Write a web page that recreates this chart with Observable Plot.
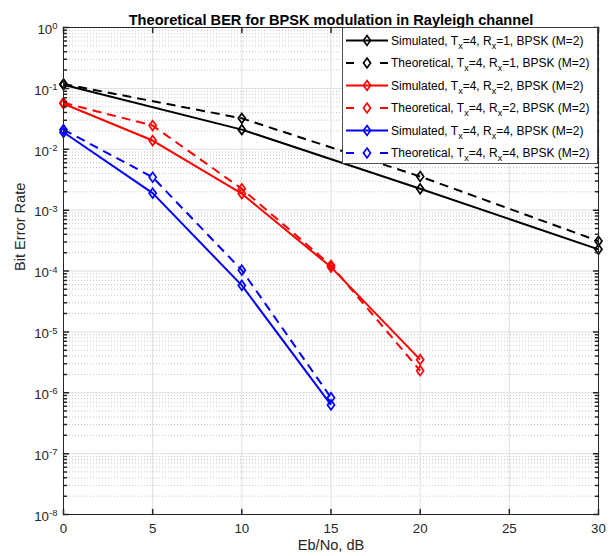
<!DOCTYPE html>
<html>
<head>
<meta charset="utf-8">
<script src="https://cdn.jsdelivr.net/npm/d3@7"></script>
<script src="https://cdn.jsdelivr.net/npm/@observablehq/plot@0.6"></script>
<style>
  html, body { margin: 0; padding: 0; background: #fff; overflow: hidden; }
  svg { display: block; }
</style>
</head>
<body>
<div id="chart"></div>
<script>
// ---- data ----
const ebnoRx1 = [0, 10, 20, 30];
const simRx1  = [0.115, 0.021, 0.00224, 0.000227];
const theoRx1 = [0.118, 0.0322, 0.00357, 0.00031];

const ebnoRx2 = [0, 5, 10, 15, 20];
const simRx2  = [0.056, 0.0139, 0.00186, 0.000116, 3.5e-6];
const theoRx2 = [0.058, 0.0245, 0.00224, 0.000124, 2.3e-6];

const ebnoRx4 = [0, 5, 10, 15];
const simRx4  = [0.019, 0.0019, 5.8e-5, 6.3e-7];
const theoRx4 = [0.021, 0.00347, 1.03e-4, 8.3e-7];

const seriesNames = [
  "Simulated, T_x=4, R_x=1, BPSK (M=2)",
  "Theoretical, T_x=4, R_x=1, BPSK (M=2)",
  "Simulated, T_x=4, R_x=2, BPSK (M=2)",
  "Theoretical, T_x=4, R_x=2, BPSK (M=2)",
  "Simulated, T_x=4, R_x=4, BPSK (M=2)",
  "Theoretical, T_x=4, R_x=4, BPSK (M=2)"
];
const seriesColors = ["#000000", "#000000", "#ff0000", "#ff0000", "#0000ff", "#0000ff"];
const seriesDashed = [false, true, false, true, false, true];

const xTicks = [0, 5, 10, 15, 20, 25, 30];
const yExponents = [-8, -7, -6, -5, -4, -3, -2, -1, 0];
const titleText = "Theoretical BER for BPSK modulation in Rayleigh channel";
const xLabel = "Eb/No, dB";
const yLabel = "Bit Error Rate";

// ---- build table ----
const seriesX = [ebnoRx1, ebnoRx1, ebnoRx2, ebnoRx2, ebnoRx4, ebnoRx4];
const seriesY = [simRx1, theoRx1, simRx2, theoRx2, simRx4, theoRx4];
const rows = seriesX.flatMap((xs, i) => xs.map((x, j) => ({series: i, x, y: seriesY[i][j]})));

const yMajor = yExponents.map(e => Math.pow(10, e));
const yMinor = [];
for (const e of yExponents.slice(0, -1)) for (let m = 2; m <= 9; m++) yMinor.push(m * Math.pow(10, e));

// ---- layout ----
const W = 615, H = 556;
const mL = 63, mR = 17, mT = 27, mB = 42;
const axisColor = "#262626";
const font = "'Liberation Sans', Arial, Helvetica, sans-serif";

const diamond = {
  draw(context, size) {
    const r = Math.sqrt(size / Math.PI);
    const w = r * 0.72;
    context.moveTo(0, -r);
    context.lineTo(w, 0);
    context.lineTo(0, r);
    context.lineTo(-w, 0);
    context.closePath();
  }
};
const tickShape = {
  draw(context, l) { context.moveTo(0, 0); context.lineTo(0, -l); }
};

const seriesMarks = seriesNames.flatMap((name, i) => {
  const d = rows.filter(r => r.series === i);
  return [
    Plot.line(d, {x: "x", y: "y", stroke: seriesColors[i], strokeWidth: 2,
      strokeLinecap: "butt", strokeLinejoin: "miter",
      strokeDasharray: seriesDashed[i] ? "9,6" : null}),
    Plot.dot(d, {x: "x", y: "y", symbol: diamond, r: 4.9, stroke: seriesColors[i],
      strokeWidth: 1.7, fill: "none"})
  ];
});

const tickMarks = [
  Plot.vector(xTicks, {x: d => d, frameAnchor: "bottom", rotate: 0, length: 5, anchor: "start", shape: tickShape, stroke: axisColor}),
  Plot.vector(xTicks, {x: d => d, frameAnchor: "top", rotate: 180, length: 5, anchor: "start", shape: tickShape, stroke: axisColor}),
  Plot.vector(yMajor, {y: d => d, frameAnchor: "left", rotate: 90, length: 5, anchor: "start", shape: tickShape, stroke: axisColor}),
  Plot.vector(yMajor, {y: d => d, frameAnchor: "right", rotate: -90, length: 5, anchor: "start", shape: tickShape, stroke: axisColor}),
  Plot.vector(yMinor, {y: d => d, frameAnchor: "left", rotate: 90, length: 3, anchor: "start", shape: tickShape, stroke: axisColor}),
  Plot.vector(yMinor, {y: d => d, frameAnchor: "right", rotate: -90, length: 3, anchor: "start", shape: tickShape, stroke: axisColor})
];

const chart = Plot.plot({
  width: W, height: H,
  marginLeft: mL, marginRight: mR, marginTop: mT, marginBottom: mB,
  style: {fontFamily: font, fontSize: "13.3px", color: axisColor, background: "#fff", overflow: "visible"},
  x: {domain: [0, 30]},
  y: {type: "log", domain: [1e-8, 1]},
  marks: [
    Plot.ruleY(yMinor, {stroke: "#c4c4c4", strokeWidth: 1, strokeDasharray: "1,2"}),
    Plot.ruleY(yMajor, {stroke: "#dedede", strokeWidth: 1}),
    Plot.ruleX(xTicks, {stroke: "#dedede", strokeWidth: 1}),
    ...seriesMarks,
    Plot.frame({stroke: axisColor, strokeWidth: 1}),
    ...tickMarks,
    Plot.axisX({ticks: xTicks, tickSize: 0, tickPadding: 9, label: null, fontSize: 13.3, tickFormat: d => String(d)}),
    Plot.axisY({ticks: yMajor, tickSize: 0, tickPadding: 6, label: null, fontSize: 13.3, dy: 2,
      tickFormat: d => "10^" + Math.round(Math.log10(d))}),
    Plot.text([xLabel], {text: d => d, frameAnchor: "bottom", dy: 35, fontSize: 14.6, fill: axisColor}),
    Plot.text([yLabel], {text: d => d, frameAnchor: "left", dx: -43, rotate: -90, fontSize: 14.6, fill: axisColor}),
    Plot.text([titleText], {text: d => d, frameAnchor: "top", dy: -12.5, fontSize: 14.6, fontWeight: "bold", fill: "#000"})
  ]
});

document.getElementById("chart").appendChild(chart);
const svg = d3.select(chart);

// superscript exponents on y tick labels
svg.selectAll('g[aria-label="y-axis tick label"] text').each(function () {
  const t = d3.select(this);
  const s = t.text();
  const [base, exp] = s.split("^");
  t.text(null);
  t.append("tspan").text(base);
  t.append("tspan").attr("dy", "-0.48em").attr("font-size", "0.72em").text(exp);
});

// legend
const lgW = 255, lgH = 136, rowH = 22.5;
const lgRight = W - mR - 1;
const lgLeft = lgRight - lgW;
const lgTop = mT;
const lg = svg.append("g").attr("font-family", font).attr("font-size", 12).attr("text-anchor", "start");
lg.append("rect")
  .attr("x", lgLeft + 0.5).attr("y", lgTop + 0.5)
  .attr("width", lgW).attr("height", lgH)
  .attr("fill", "#fff").attr("stroke", axisColor).attr("stroke-width", 0.8);
seriesNames.forEach((name, i) => {
  const cy = lgTop + 13.5 + i * rowH;
  const x1 = lgLeft + 4, x2 = lgLeft + 46, xm = (x1 + x2) / 2;
  lg.append("line")
    .attr("x1", x1).attr("x2", x2).attr("y1", cy).attr("y2", cy)
    .attr("stroke", seriesColors[i]).attr("stroke-width", 2)
    .attr("stroke-dasharray", seriesDashed[i] ? "8,26" : null);
  const r = 4.9, w = r * 0.72;
  lg.append("path")
    .attr("d", `M${xm},${cy - r}L${xm + w},${cy}L${xm},${cy + r}L${xm - w},${cy}Z`)
    .attr("fill", "none").attr("stroke", seriesColors[i]).attr("stroke-width", 1.7);
  const text = lg.append("text").attr("x", lgLeft + 49).attr("y", cy + 4).attr("fill", "#000").attr("text-anchor", "start");
  const parts = name.split(/_(\w)/);
  let down = false;
  parts.forEach((p, k) => {
    const sub = k % 2 === 1;
    const ts = text.append("tspan").text(p);
    if (sub) { ts.attr("dy", 4).attr("font-size", 9); down = true; }
    else if (down) { ts.attr("dy", -4); down = false; }
  });
});
</script>
</body>
</html>
